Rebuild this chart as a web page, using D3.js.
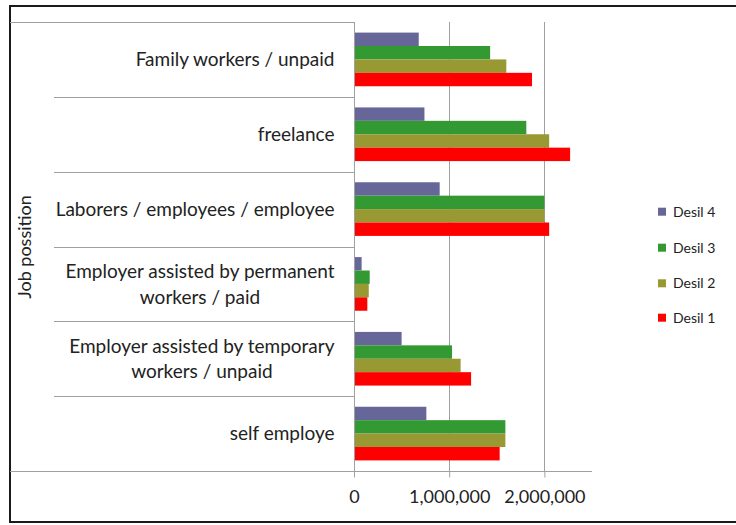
<!DOCTYPE html>
<html><head><meta charset="utf-8">
<script src="https://cdn.jsdelivr.net/npm/d3@7"></script>
<style>
  body { margin: 0; background: #fff; }
  text { font-family: Lato, "Liberation Sans", sans-serif; fill: #222; }
</style>
</head><body>
<svg id="chart" width="736" height="525"></svg>
<script>
// Job positions, top to bottom
const categories = [
  ["Family workers / unpaid"],
  ["freelance"],
  ["Laborers / employees / employee"],
  ["Employer assisted by permanent", "workers / paid"],
  ["Employer assisted by temporary", "workers / unpaid"],
  ["self employe"]
];
const categoryKeys = categories.map(c => c.join(" "));

// Series, listed in drawing order within each group (top to bottom)
const seriesNames = ["Desil 4", "Desil 3", "Desil 2", "Desil 1"];
const seriesColors = ["#666699", "#339933", "#999933", "#ff0000"];

const desil4 = [680000, 740000, 900000, 80000, 500000, 760000];
const desil3 = [1430000, 1810000, 2000000, 165000, 1030000, 1590000];
const desil2 = [1600000, 2050000, 2000000, 155000, 1120000, 1590000];
const desil1 = [1870000, 2270000, 2050000, 140000, 1230000, 1530000];
const seriesValues = [desil4, desil3, desil2, desil1];

const xTicks = [0, 1000000, 2000000];

const svg = d3.select("#chart");
const gridColor = "#a0a0a0";

const plot = { left: 354, right: 592, top: 22, bottom: 471 };

const x = d3.scaleLinear().domain([0, 2500000]).range([plot.left, plot.right]);
const y = d3.scaleBand().domain(categoryKeys).range([plot.top, plot.bottom]).paddingInner(0.283).paddingOuter(0.1415);
const yInner = d3.scaleBand().domain(seriesNames).range([0, y.bandwidth()]);
const yStep = d3.scaleBand().domain(categoryKeys).range([plot.top, plot.bottom]);

// Outer frame (right side falls off the page)
svg.append("rect").attr("x", 10).attr("y", 6).attr("width", 760).attr("height", 516)
  .attr("fill", "none").attr("stroke", "#1a1a1a").attr("stroke-width", 2);

// Vertical gridlines
svg.append("g").selectAll("line").data(xTicks.filter(d => d > 0)).join("line")
  .attr("x1", d => Math.round(x(d)) + 0.5).attr("x2", d => Math.round(x(d)) + 0.5)
  .attr("y1", plot.top).attr("y2", plot.bottom)
  .attr("stroke", gridColor);

// Bars
const groups = svg.append("g").selectAll("g").data(categoryKeys).join("g")
  .attr("transform", d => `translate(0,${y(d)})`);
groups.selectAll("rect")
  .data((d, i) => seriesNames.map((s, j) => ({ s, j, v: seriesValues[j][i] })))
  .join("rect")
  .attr("x", x(0))
  .attr("y", d => yInner(d.s))
  .attr("width", d => x(d.v) - x(0))
  .attr("height", yInner.bandwidth())
  .attr("fill", d => seriesColors[d.j]);

// Category separators and frame lines of the label table
svg.append("line").attr("x1", 10).attr("x2", plot.left).attr("y1", plot.top + 0.5).attr("y2", plot.top + 0.5).attr("stroke", gridColor);
svg.append("g").selectAll("line").data(categoryKeys.slice(1)).join("line")
  .attr("x1", 54).attr("x2", plot.left)
  .attr("y1", d => Math.round(yStep(d)) + 0.5).attr("y2", d => Math.round(yStep(d)) + 0.5)
  .attr("stroke", gridColor);

// X axis
const xAxis = d3.axisBottom(x).tickValues(xTicks).tickSize(6).tickPadding(16)
  .tickFormat(d3.format(","));
const ax = svg.append("g").attr("transform", `translate(0,${plot.bottom + 0.5})`).call(xAxis);
ax.select(".domain").remove();
ax.selectAll(".tick line").attr("stroke", gridColor);
ax.selectAll(".tick text").attr("font-size", 18).attr("font-family", "Lato").attr("fill", "#222").attr("dy", "0.55em");
svg.append("line").attr("x1", 10).attr("x2", plot.right).attr("y1", plot.bottom + 0.5).attr("y2", plot.bottom + 0.5).attr("stroke", gridColor);

// Y axis line
svg.append("line").attr("x1", plot.left + 0.5).attr("x2", plot.left + 0.5).attr("y1", plot.top).attr("y2", plot.bottom + 6).attr("stroke", gridColor);

// Category labels: block right-aligned, lines centred on each other
const labelRight = 334.5;
const lineGap = 25.7;
categories.forEach((lines, i) => {
  const cy = yStep(categoryKeys[i]) + yStep.bandwidth() / 2;
  const widths = lines.map(l => {
    const t = svg.append("text").attr("font-size", 19).text(l);
    const w = t.node().getComputedTextLength(); t.remove(); return w;
  });
  const cx = labelRight - d3.max(widths) / 2;
  lines.forEach((l, k) => {
    svg.append("text")
      .attr("x", cx)
      .attr("y", cy + (k - (lines.length - 1) / 2) * lineGap)
      .attr("dy", "0.36em")
      .attr("text-anchor", "middle")
      .attr("font-size", 19)
      .text(l);
  });
});

// Axis title
svg.append("text")
  .attr("transform", "translate(25,247) rotate(-90)")
  .attr("text-anchor", "middle").attr("dy", "0.36em")
  .attr("font-size", 18)
  .text("Job possition");

// Legend
const legendY = [211.7, 247.7, 283.3, 317.7];
const legend = svg.append("g").selectAll("g").data(seriesNames).join("g")
  .attr("transform", (d, i) => `translate(658,${legendY[i]})`);
legend.append("rect").attr("x", 0).attr("y", -4).attr("width", 8).attr("height", 8)
  .attr("fill", (d, i) => seriesColors[i]);
legend.append("text").attr("x", 15).attr("dy", "0.36em").attr("font-size", 14).text(d => d);
</script></body></html>
